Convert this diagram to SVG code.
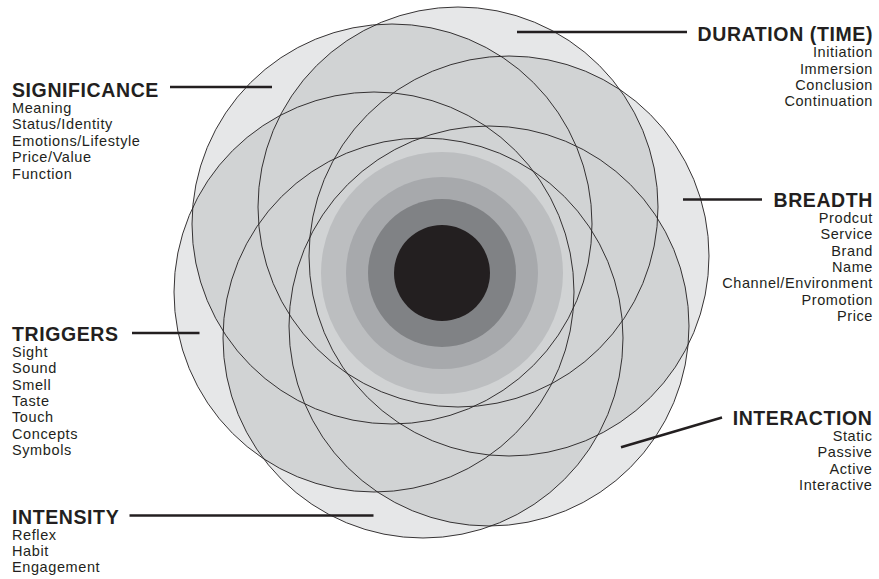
<svg xmlns="http://www.w3.org/2000/svg" width="879" height="579" viewBox="0 0 879 579">
<style>
.h{font-family:"Liberation Sans",Arial,sans-serif;font-weight:bold;font-size:19.5px;letter-spacing:0.6px;fill:#231f20}
.t{font-family:"Liberation Sans",Arial,sans-serif;font-size:14.5px;letter-spacing:0.6px;fill:#231f20}
.r{text-anchor:end}
.ln{stroke:#231f20;stroke-width:2.5;fill:none}
.oc{fill:none;stroke:#231f20;stroke-width:0.9}
</style>
<defs>
<clipPath id="k1"><circle cx="392" cy="224" r="200"/></clipPath>
<clipPath id="k2"><circle cx="458" cy="207" r="200"/></clipPath>
<clipPath id="k3"><circle cx="509" cy="256" r="200"/></clipPath>
<clipPath id="k4"><circle cx="489" cy="326" r="200"/></clipPath>
<clipPath id="k5"><circle cx="423" cy="338" r="200"/></clipPath>
</defs>
<rect width="879" height="579" fill="#ffffff"/>
<g id="petals">
<g id="petal-fills" fill="#e6e7e8">
<circle cx="392" cy="224" r="200"/>
<circle cx="458" cy="207" r="200"/>
<circle cx="509" cy="256" r="200"/>
<circle cx="489" cy="326" r="200"/>
<circle cx="423" cy="338" r="200"/>
<circle cx="374" cy="292" r="200"/>
</g>
<g id="overlap-fills" fill="#d1d3d4">
<g clip-path="url(#k1)">
<circle cx="458" cy="207" r="200"/><circle cx="509" cy="256" r="200"/><circle cx="489" cy="326" r="200"/><circle cx="423" cy="338" r="200"/><circle cx="374" cy="292" r="200"/>
</g>
<g clip-path="url(#k2)">
<circle cx="509" cy="256" r="200"/><circle cx="489" cy="326" r="200"/><circle cx="423" cy="338" r="200"/><circle cx="374" cy="292" r="200"/>
</g>
<g clip-path="url(#k3)">
<circle cx="489" cy="326" r="200"/><circle cx="423" cy="338" r="200"/><circle cx="374" cy="292" r="200"/>
</g>
<g clip-path="url(#k4)">
<circle cx="423" cy="338" r="200"/><circle cx="374" cy="292" r="200"/>
</g>
<g clip-path="url(#k5)">
<circle cx="374" cy="292" r="200"/>
</g>
</g>
</g>
<g id="core">
<circle cx="442" cy="273" r="121" fill="#bcbec0"/>
<circle cx="442" cy="273" r="96" fill="#a7a9ac"/>
<circle cx="442" cy="273" r="74" fill="#808285"/>
<circle cx="442" cy="273" r="48" fill="#231f20"/>
</g>
<g id="petal-outlines">
<circle id="circle-significance" class="oc" cx="392" cy="224" r="200"/>
<circle id="circle-duration" class="oc" cx="458" cy="207" r="200"/>
<circle id="circle-breadth" class="oc" cx="509" cy="256" r="200"/>
<circle id="circle-interaction" class="oc" cx="489" cy="326" r="200"/>
<circle id="circle-intensity" class="oc" cx="423" cy="338" r="200"/>
<circle id="circle-triggers" class="oc" cx="374" cy="292" r="200"/>
</g>
<g id="connectors">
<line class="ln" x1="170" y1="87" x2="272" y2="87"/>
<line class="ln" x1="517" y1="32" x2="687" y2="32"/>
<line class="ln" x1="683" y1="199.5" x2="762" y2="199.5"/>
<line class="ln" x1="132" y1="333" x2="199.5" y2="333"/>
<line class="ln" x1="621" y1="447.3" x2="722" y2="417.5"/>
<line class="ln" x1="129.5" y1="515.5" x2="373.5" y2="515.5"/>
</g>
<g id="label-significance">
<text class="h" x="12" y="97">SIGNIFICANCE</text>
<text class="t" x="12" y="113">Meaning</text>
<text class="t" x="12" y="129.4">Status/Identity</text>
<text class="t" x="12" y="145.8">Emotions/Lifestyle</text>
<text class="t" x="12" y="162.2">Price/Value</text>
<text class="t" x="12" y="178.6">Function</text>
</g>
<g id="label-duration">
<text class="h r" x="873" y="41">DURATION (TIME)</text>
<text class="t r" x="873" y="57.3">Initiation</text>
<text class="t r" x="873" y="73.6">Immersion</text>
<text class="t r" x="873" y="89.9">Conclusion</text>
<text class="t r" x="873" y="106.2">Continuation</text>
</g>
<g id="label-breadth">
<text class="h r" x="873" y="207">BREADTH</text>
<text class="t r" x="873" y="223">Prodcut</text>
<text class="t r" x="873" y="239.3">Service</text>
<text class="t r" x="873" y="255.6">Brand</text>
<text class="t r" x="873" y="271.9">Name</text>
<text class="t r" x="873" y="288.2">Channel/Environment</text>
<text class="t r" x="873" y="304.5">Promotion</text>
<text class="t r" x="873" y="320.8">Price</text>
</g>
<g id="label-triggers">
<text class="h" x="12" y="340.5">TRIGGERS</text>
<text class="t" x="12" y="357">Sight</text>
<text class="t" x="12" y="373.3">Sound</text>
<text class="t" x="12" y="389.6">Smell</text>
<text class="t" x="12" y="405.9">Taste</text>
<text class="t" x="12" y="422.2">Touch</text>
<text class="t" x="12" y="438.5">Concepts</text>
<text class="t" x="12" y="454.8">Symbols</text>
</g>
<g id="label-interaction">
<text class="h r" x="872.5" y="424.5">INTERACTION</text>
<text class="t r" x="872.5" y="441">Static</text>
<text class="t r" x="872.5" y="457.3">Passive</text>
<text class="t r" x="872.5" y="473.6">Active</text>
<text class="t r" x="872.5" y="489.9">Interactive</text>
</g>
<g id="label-intensity">
<text class="h" x="12" y="523.5">INTENSITY</text>
<text class="t" x="12" y="539.5">Reflex</text>
<text class="t" x="12" y="555.8">Habit</text>
<text class="t" x="12" y="572.1">Engagement</text>
</g>
</svg>
